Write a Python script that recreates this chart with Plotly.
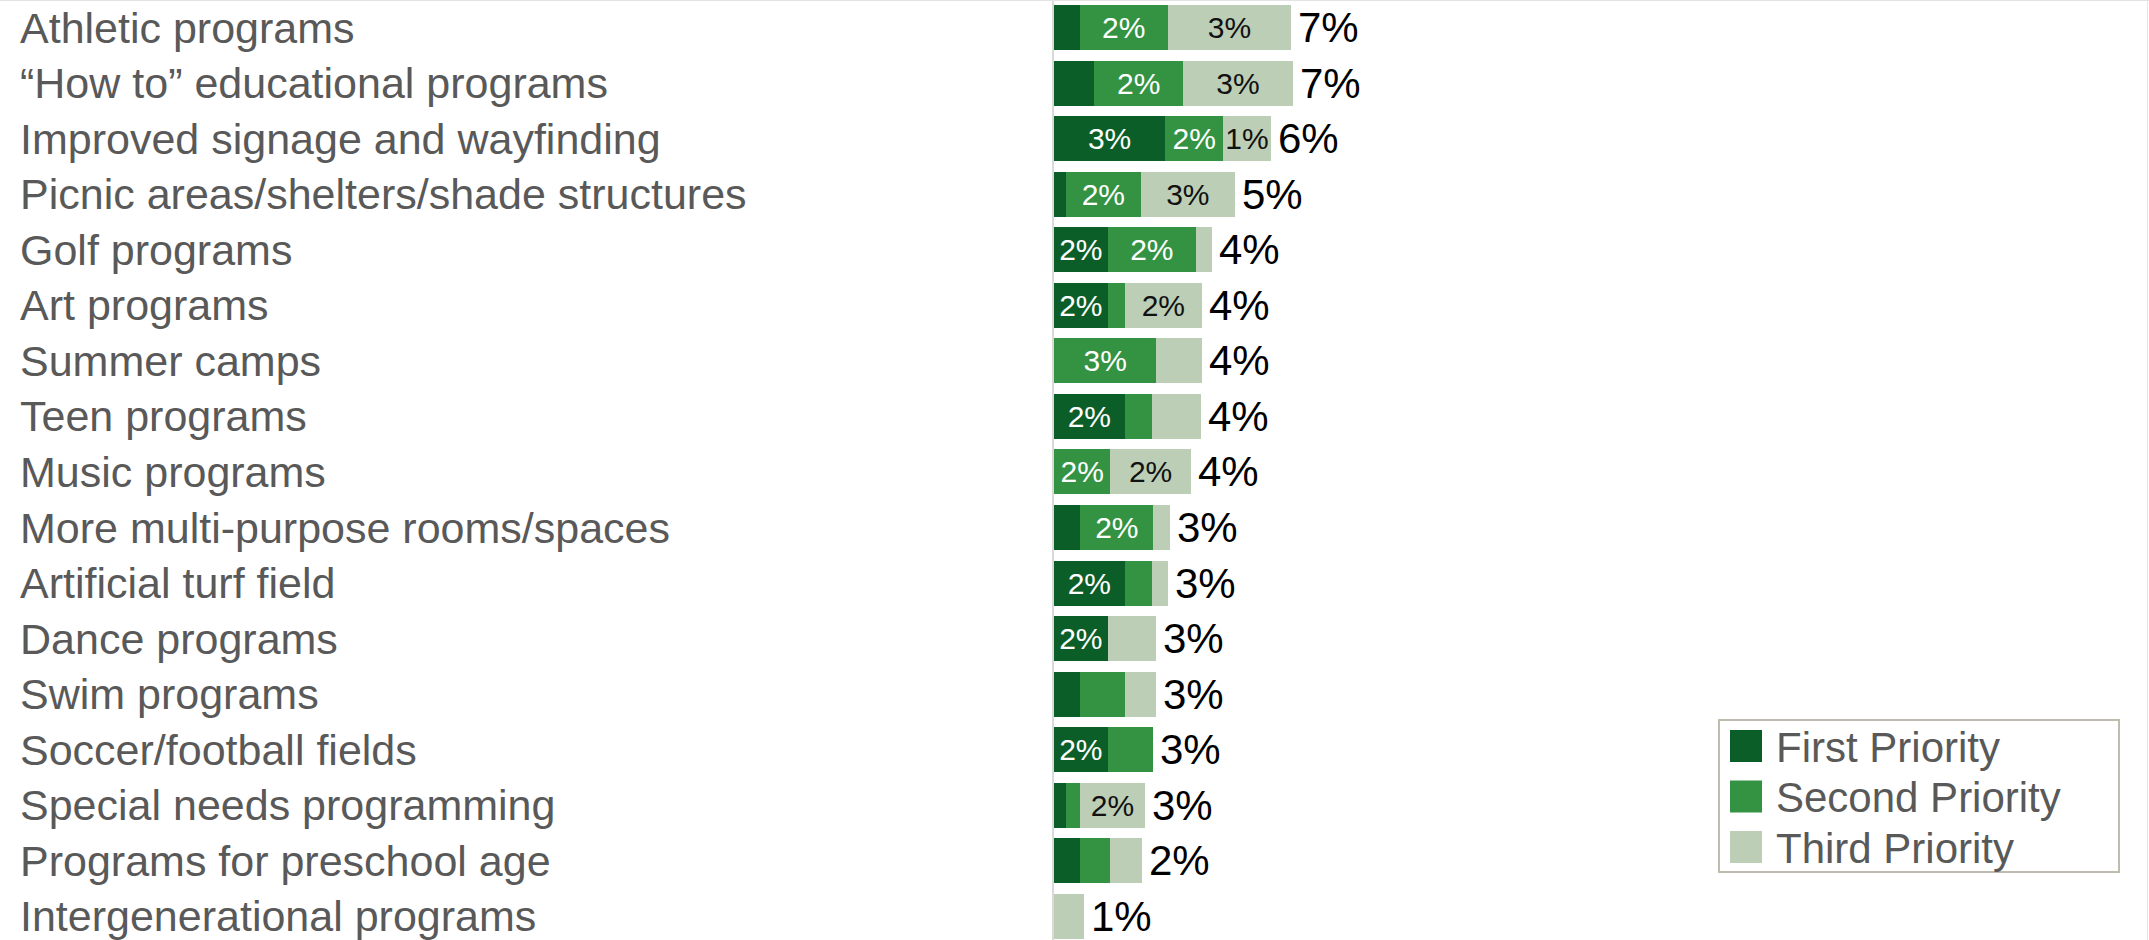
import math
import plotly.graph_objects as go

W, H = 2149, 940

categories = [
    "Athletic programs",
    "\u201cHow to\u201d educational programs",
    "Improved signage and wayfinding",
    "Picnic areas/shelters/shade structures",
    "Golf programs",
    "Art programs",
    "Summer camps",
    "Teen programs",
    "Music programs",
    "More multi-purpose rooms/spaces",
    "Artificial turf field",
    "Dance programs",
    "Swim programs",
    "Soccer/football fields",
    "Special needs programming",
    "Programs for preschool age",
    "Intergenerational programs",
]

# Share of respondents (%) by priority rank
first = [0.73, 1.14, 3.13, 0.34, 1.51, 1.51, 0.00, 1.99, 0.00, 0.74, 1.99, 1.51, 0.74, 1.51, 0.34, 0.74, 0.00]
second = [2.47, 2.49, 1.64, 2.10, 2.49, 0.48, 2.88, 0.77, 1.59, 2.06, 0.77, 0.00, 1.25, 1.29, 0.40, 0.85, 0.00]
third = [3.49, 3.10, 1.33, 2.66, 0.44, 2.18, 1.29, 1.37, 2.26, 0.48, 0.44, 1.37, 0.89, 0.00, 1.81, 0.88, 0.85]

# Segments that carry an in-bar value label
first_shown = [0, 0, 1, 0, 1, 1, 0, 1, 0, 0, 1, 1, 0, 1, 0, 0, 0]
second_shown = [1, 1, 1, 1, 1, 0, 1, 0, 1, 1, 0, 0, 0, 0, 0, 0, 0]
third_shown = [1, 1, 1, 1, 0, 1, 0, 0, 1, 0, 0, 0, 0, 0, 1, 0, 0]

series_names = ["First Priority", "Second Priority", "Third Priority"]
colors = ["#0B5E28", "#349343", "#BCCEB6"]
label_colors = ["#FFFFFF", "#FFFFFF", "#111111"]

FONT = "Liberation Sans, Arial, sans-serif"
GREY = "#595959"


def pct(v):
    return f"{int(math.floor(v + 0.5))}%"


def seg_text(vals, shown):
    return [pct(v) if s and v > 0 else "" for v, s in zip(vals, shown)]


totals = [a + b + c for a, b, c in zip(first, second, third)]

fig = go.Figure()
for name, vals, shown, col, tcol in zip(
    series_names,
    [first, second, third],
    [first_shown, second_shown, third_shown],
    colors,
    label_colors,
):
    fig.add_trace(go.Bar(
        y=categories, x=vals, orientation="h", name=name,
        marker=dict(color=col, line=dict(width=0)),
        text=seg_text(vals, shown), textposition="inside",
        insidetextanchor="middle", constraintext="none", textangle=0,
        textfont=dict(family=FONT, size=30, color=tcol),
        showlegend=False, hoverinfo="skip",
    ))

annotations = []

# Totals to the right of each bar
for cat, tot in zip(categories, totals):
    annotations.append(dict(
        xref="x", yref="y", x=tot, y=cat, text=pct(tot), showarrow=False,
        xanchor="left", yanchor="middle", xshift=5,
        font=dict(family=FONT, size=42, color="#000000"),
    ))

# Left-aligned category labels
for cat in categories:
    annotations.append(dict(
        xref="paper", yref="y", x=18 / W, y=cat, text=cat, showarrow=False,
        xanchor="left", yanchor="middle",
        font=dict(family=FONT, size=43, color=GREY),
    ))

# Legend drawn as a boxed key
shapes = [
    dict(type="rect", xref="paper", yref="paper",
         x0=1719 / W, x1=2119 / W, y0=1 - 872 / H, y1=1 - 720 / H,
         line=dict(color="#BFBCAF", width=2), fillcolor="rgba(0,0,0,0)"),
    dict(type="line", xref="paper", yref="paper", x0=0, x1=1, y0=1 - 0.5 / H, y1=1 - 0.5 / H,
         line=dict(color="#E3E3E3", width=1)),
    dict(type="line", xref="paper", yref="paper", x0=1 - 1.5 / W, x1=1 - 1.5 / W, y0=0, y1=1,
         line=dict(color="#E6E6E6", width=1)),
]
for i, (name, col) in enumerate(zip(series_names, colors)):
    cy = 746 + 50.5 * i
    shapes.append(dict(
        type="rect", xref="paper", yref="paper",
        x0=1730 / W, x1=1762 / W, y0=1 - (cy + 16) / H, y1=1 - (cy - 16) / H,
        line=dict(width=0), fillcolor=col,
    ))
    annotations.append(dict(
        xref="paper", yref="paper", x=1774 / W, y=1 - (cy + 1) / H, text=name,
        showarrow=False, xanchor="left", yanchor="middle",
        font=dict(family=FONT, size=42, color=GREY),
    ))

x0_px = 1054
px_per_pct = 35.5
row_px = 55.56
top_val = -27.5 / row_px

fig.update_layout(
    width=W, height=H, barmode="stack", bargap=0.19,
    paper_bgcolor="white", plot_bgcolor="white",
    margin=dict(l=0, r=0, t=0, b=0),
    xaxis=dict(domain=[x0_px / W, 1], range=[0, (W - x0_px) / px_per_pct],
               showgrid=False, zeroline=False, showticklabels=False, showline=False),
    yaxis=dict(type="category", range=[top_val + H / row_px, top_val],
               showgrid=False, zeroline=False, showticklabels=False,
               showline=True, linecolor="#D9D9D9", linewidth=2),
    annotations=annotations, shapes=shapes,
    uniformtext=dict(minsize=30, mode="show"),
)

fig.write_html("out.html")
